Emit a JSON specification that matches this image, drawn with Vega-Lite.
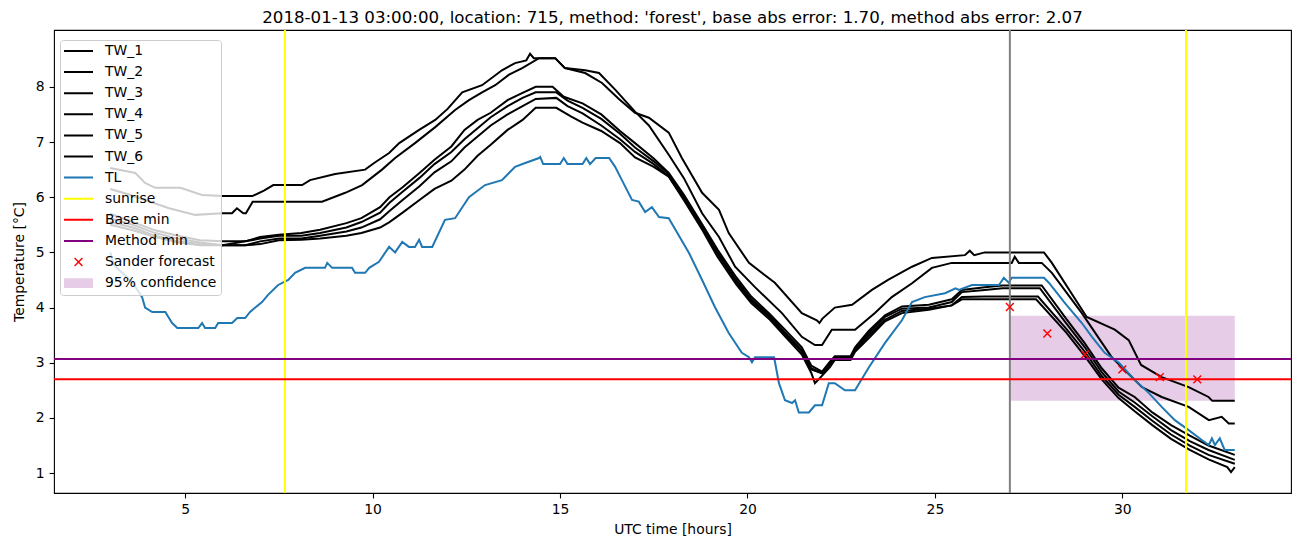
{
"$schema": "https://vega.github.io/schema/vega-lite/v6.json",
"width": 1237,
"height": 463,
"autosize": {"type": "none"},
"padding": {"left": 54, "top": 30, "right": 11, "bottom": 54},
"background": "white",
"title": {"text": "2018-01-13 03:00:00, location: 715, method: 'forest', base abs error: 1.70, method abs error: 2.07", "font": "DejaVu Sans", "fontSize": 16.67, "fontWeight": "normal", "color": "black", "anchor": "middle", "offset": 2},
"config": {
"font": "DejaVu Sans",
"view": {"stroke": "black", "strokeWidth": 1.1},
"axis": {"domain": false, "grid": false, "tickColor": "black", "tickSize": 4.9, "tickWidth": 1.1, "labelFont": "DejaVu Sans", "labelFontSize": 13.9, "labelColor": "black", "labelPadding": 4.9, "titleFont": "DejaVu Sans", "titleFontSize": 13.9, "titleFontWeight": "normal", "titleColor": "black"},
"axisX": {"titlePadding": 5.6},
"axisY": {"titlePadding": 9},
"legend": {"title": null, "orient": "none", "legendX": 6, "legendY": 10, "padding": 4, "fillColor": "rgba(255,255,255,0.8)", "strokeColor": "#cccccc", "cornerRadius": 3, "symbolSize": 841, "symbolStrokeWidth": 0, "symbolOpacity": 1, "labelFont": "DejaVu Sans", "labelFontSize": 13.9, "labelColor": "black", "labelOffset": 12, "labelLimit": 300, "clipHeight": 14, "rowPadding": 7.1}
},
"datasets": {
"band": [{"start": 27, "end": 33, "low": 2.31, "high": 3.85}],
"forecast": [{"series": "Sander forecast", "hour": 27, "temp": 4.01}, {"series": "Sander forecast", "hour": 28, "temp": 3.53}, {"series": "Sander forecast", "hour": 29, "temp": 3.15}, {"series": "Sander forecast", "hour": 30, "temp": 2.88}, {"series": "Sander forecast", "hour": 31, "temp": 2.74}, {"series": "Sander forecast", "hour": 32, "temp": 2.70}],
"sunrise": [{"hour": 7.66}, {"hour": 31.7}],
"now": [{"hour": 27}],
"basemin": [{"temp": 2.70}],
"methodmin": [{"temp": 3.07}],
"lines": [
{"series":"TW_1","hour":3.0,"temp":6.53},{"series":"TW_1","hour":3.67,"temp":6.44},{"series":"TW_1","hour":3.93,"temp":6.26},{"series":"TW_1","hour":4.2,"temp":6.17},{"series":"TW_1","hour":4.87,"temp":6.17},{"series":"TW_1","hour":5.45,"temp":6.04},{"series":"TW_1","hour":6.0,"temp":6.02},{"series":"TW_1","hour":6.79,"temp":6.02},{"series":"TW_1","hour":7.1,"temp":6.12},{"series":"TW_1","hour":7.35,"temp":6.22},{"series":"TW_1","hour":8.12,"temp":6.22},{"series":"TW_1","hour":8.33,"temp":6.31},{"series":"TW_1","hour":9.0,"temp":6.42},{"series":"TW_1","hour":9.8,"temp":6.5},{"series":"TW_1","hour":10.04,"temp":6.62},{"series":"TW_1","hour":10.44,"temp":6.8},{"series":"TW_1","hour":10.71,"temp":6.98},{"series":"TW_1","hour":11.24,"temp":7.22},{"series":"TW_1","hour":11.67,"temp":7.4},{"series":"TW_1","hour":12.0,"temp":7.6},{"series":"TW_1","hour":12.39,"temp":7.9},{"series":"TW_1","hour":12.92,"temp":8.03},{"series":"TW_1","hour":13.45,"temp":8.3},{"series":"TW_1","hour":13.8,"temp":8.43},{"series":"TW_1","hour":14.1,"temp":8.48},{"series":"TW_1","hour":14.2,"temp":8.6},{"series":"TW_1","hour":14.3,"temp":8.52},{"series":"TW_1","hour":14.87,"temp":8.52},{"series":"TW_1","hour":15.13,"temp":8.34},{"series":"TW_1","hour":15.67,"temp":8.25},{"series":"TW_1","hour":16.12,"temp":8.07},{"series":"TW_1","hour":16.57,"temp":7.78},{"series":"TW_1","hour":17.0,"temp":7.53},{"series":"TW_1","hour":17.37,"temp":7.44},{"series":"TW_1","hour":17.9,"temp":7.17},{"series":"TW_1","hour":18.25,"temp":6.71},{"series":"TW_1","hour":18.79,"temp":6.08},{"series":"TW_1","hour":19.24,"temp":5.77},{"series":"TW_1","hour":19.5,"temp":5.35},{"series":"TW_1","hour":20.04,"temp":4.81},{"series":"TW_1","hour":20.73,"temp":4.45},{"series":"TW_1","hour":21.45,"temp":3.9},{"series":"TW_1","hour":21.85,"temp":3.77},{"series":"TW_1","hour":21.92,"temp":3.72},{"series":"TW_1","hour":22.0,"temp":3.8},{"series":"TW_1","hour":22.33,"temp":4.0},{"series":"TW_1","hour":22.79,"temp":4.05},{"series":"TW_1","hour":23.32,"temp":4.32},{"series":"TW_1","hour":23.75,"temp":4.5},{"series":"TW_1","hour":24.39,"temp":4.74},{"series":"TW_1","hour":24.92,"temp":4.9},{"series":"TW_1","hour":25.8,"temp":4.95},{"series":"TW_1","hour":25.93,"temp":5.03},{"series":"TW_1","hour":26.05,"temp":4.95},{"series":"TW_1","hour":26.33,"temp":5.0},{"series":"TW_1","hour":27.91,"temp":5.0},{"series":"TW_1","hour":28.12,"temp":4.81},{"series":"TW_1","hour":29.05,"temp":3.83},{"series":"TW_1","hour":29.8,"temp":3.6},{"series":"TW_1","hour":30.17,"temp":3.41},{"series":"TW_1","hour":30.5,"temp":2.96},{"series":"TW_1","hour":31.05,"temp":2.74},{"series":"TW_1","hour":31.77,"temp":2.56},{"series":"TW_1","hour":32.3,"temp":2.38},{"series":"TW_1","hour":32.4,"temp":2.31},{"series":"TW_1","hour":33.0,"temp":2.31},
{"series":"TW_2","hour":3.0,"temp":6.15},{"series":"TW_2","hour":3.5,"temp":6.05},{"series":"TW_2","hour":3.93,"temp":5.95},{"series":"TW_2","hour":4.57,"temp":5.8},{"series":"TW_2","hour":5.27,"temp":5.68},{"series":"TW_2","hour":5.99,"temp":5.71},{"series":"TW_2","hour":6.25,"temp":5.71},{"series":"TW_2","hour":6.38,"temp":5.8},{"series":"TW_2","hour":6.55,"temp":5.71},{"series":"TW_2","hour":6.62,"temp":5.71},{"series":"TW_2","hour":6.8,"temp":5.92},{"series":"TW_2","hour":8.65,"temp":5.92},{"series":"TW_2","hour":9.27,"temp":6.08},{"series":"TW_2","hour":9.72,"temp":6.22},{"series":"TW_2","hour":10.25,"temp":6.5},{"series":"TW_2","hour":10.6,"temp":6.71},{"series":"TW_2","hour":11.13,"temp":6.98},{"series":"TW_2","hour":11.67,"temp":7.27},{"series":"TW_2","hour":12.2,"temp":7.58},{"series":"TW_2","hour":12.57,"temp":7.76},{"series":"TW_2","hour":12.92,"temp":7.9},{"series":"TW_2","hour":13.27,"temp":8.03},{"series":"TW_2","hour":13.64,"temp":8.22},{"series":"TW_2","hour":13.99,"temp":8.34},{"series":"TW_2","hour":14.44,"temp":8.52},{"series":"TW_2","hour":14.87,"temp":8.52},{"series":"TW_2","hour":15.13,"temp":8.34},{"series":"TW_2","hour":15.67,"temp":8.3},{"series":"TW_2","hour":16.04,"temp":8.25},{"series":"TW_2","hour":16.47,"temp":7.95},{"series":"TW_2","hour":17.0,"temp":7.55},{"series":"TW_2","hour":17.37,"temp":7.3},{"series":"TW_2","hour":17.9,"temp":6.77},{"series":"TW_2","hour":18.3,"temp":6.35},{"series":"TW_2","hour":18.79,"temp":5.71},{"series":"TW_2","hour":19.24,"temp":5.28},{"series":"TW_2","hour":19.67,"temp":4.74},{"series":"TW_2","hour":20.2,"temp":4.37},{"series":"TW_2","hour":20.92,"temp":3.9},{"series":"TW_2","hour":21.45,"temp":3.47},{"series":"TW_2","hour":21.8,"temp":3.32},{"series":"TW_2","hour":21.99,"temp":3.32},{"series":"TW_2","hour":22.25,"temp":3.6},{"series":"TW_2","hour":22.87,"temp":3.6},{"series":"TW_2","hour":23.4,"temp":3.9},{"series":"TW_2","hour":23.85,"temp":4.19},{"series":"TW_2","hour":24.39,"temp":4.44},{"series":"TW_2","hour":24.92,"temp":4.72},{"series":"TW_2","hour":25.45,"temp":4.81},{"series":"TW_2","hour":27.05,"temp":4.81},{"series":"TW_2","hour":27.13,"temp":4.92},{"series":"TW_2","hour":27.24,"temp":4.81},{"series":"TW_2","hour":27.85,"temp":4.81},{"series":"TW_2","hour":28.12,"temp":4.63},{"series":"TW_2","hour":28.92,"temp":3.9},{"series":"TW_2","hour":29.72,"temp":3.1},{"series":"TW_2","hour":30.52,"temp":2.56},{"series":"TW_2","hour":31.05,"temp":2.38},{"series":"TW_2","hour":31.77,"temp":2.2},{"series":"TW_2","hour":32.31,"temp":1.96},{"series":"TW_2","hour":32.65,"temp":2.02},{"series":"TW_2","hour":32.84,"temp":1.9},{"series":"TW_2","hour":33.0,"temp":1.9},
{"series":"TW_3","hour":3.0,"temp":5.7},{"series":"TW_3","hour":3.6,"temp":5.55},{"series":"TW_3","hour":4.2,"temp":5.4},{"series":"TW_3","hour":4.8,"temp":5.3},{"series":"TW_3","hour":5.4,"temp":5.22},{"series":"TW_3","hour":6.0,"temp":5.2},{"series":"TW_3","hour":6.6,"temp":5.2},{"series":"TW_3","hour":7.0,"temp":5.28},{"series":"TW_3","hour":7.5,"temp":5.32},{"series":"TW_3","hour":8.1,"temp":5.35},{"series":"TW_3","hour":8.6,"temp":5.41},{"series":"TW_3","hour":9.3,"temp":5.53},{"series":"TW_3","hour":9.7,"temp":5.62},{"series":"TW_3","hour":10.2,"temp":5.82},{"series":"TW_3","hour":10.45,"temp":6.0},{"series":"TW_3","hour":10.8,"temp":6.18},{"series":"TW_3","hour":11.25,"temp":6.44},{"series":"TW_3","hour":11.65,"temp":6.68},{"series":"TW_3","hour":12.1,"temp":6.92},{"series":"TW_3","hour":12.45,"temp":7.22},{"series":"TW_3","hour":12.8,"temp":7.4},{"series":"TW_3","hour":13.15,"temp":7.53},{"series":"TW_3","hour":13.6,"temp":7.76},{"series":"TW_3","hour":14.0,"temp":7.89},{"series":"TW_3","hour":14.35,"temp":8.0},{"series":"TW_3","hour":14.8,"temp":8.0},{"series":"TW_3","hour":15.1,"temp":7.82},{"series":"TW_3","hour":15.6,"temp":7.7},{"series":"TW_3","hour":16.1,"temp":7.5},{"series":"TW_3","hour":16.6,"temp":7.2},{"series":"TW_3","hour":17.0,"temp":6.98},{"series":"TW_3","hour":17.5,"temp":6.7},{"series":"TW_3","hour":17.9,"temp":6.44},{"series":"TW_3","hour":18.3,"temp":6.05},{"series":"TW_3","hour":18.8,"temp":5.5},{"series":"TW_3","hour":19.2,"temp":5.05},{"series":"TW_3","hour":19.7,"temp":4.55},{"series":"TW_3","hour":20.1,"temp":4.2},{"series":"TW_3","hour":20.6,"temp":3.88},{"series":"TW_3","hour":21.0,"temp":3.6},{"series":"TW_3","hour":21.45,"temp":3.28},{"series":"TW_3","hour":21.7,"temp":2.95},{"series":"TW_3","hour":21.99,"temp":2.84},{"series":"TW_3","hour":22.2,"temp":3.02},{"series":"TW_3","hour":22.33,"temp":3.12},{"series":"TW_3","hour":22.75,"temp":3.12},{"series":"TW_3","hour":22.87,"temp":3.28},{"series":"TW_3","hour":23.24,"temp":3.58},{"series":"TW_3","hour":23.67,"temp":3.86},{"series":"TW_3","hour":24.12,"temp":4.02},{"series":"TW_3","hour":24.84,"temp":4.05},{"series":"TW_3","hour":25.45,"temp":4.15},{"series":"TW_3","hour":25.72,"temp":4.32},{"series":"TW_3","hour":26.33,"temp":4.37},{"series":"TW_3","hour":26.8,"temp":4.4},{"series":"TW_3","hour":27.85,"temp":4.4},{"series":"TW_3","hour":28.5,"temp":3.8},{"series":"TW_3","hour":29.0,"temp":3.35},{"series":"TW_3","hour":29.45,"temp":2.9},{"series":"TW_3","hour":29.9,"temp":2.55},{"series":"TW_3","hour":30.33,"temp":2.38},{"series":"TW_3","hour":30.8,"temp":2.1},{"series":"TW_3","hour":31.3,"temp":1.87},{"series":"TW_3","hour":31.8,"temp":1.68},{"series":"TW_3","hour":32.3,"temp":1.5},{"series":"TW_3","hour":33.0,"temp":1.33},
{"series":"TW_4","hour":3.0,"temp":5.62},{"series":"TW_4","hour":3.6,"temp":5.5},{"series":"TW_4","hour":4.2,"temp":5.35},{"series":"TW_4","hour":4.8,"temp":5.25},{"series":"TW_4","hour":5.4,"temp":5.18},{"series":"TW_4","hour":6.0,"temp":5.13},{"series":"TW_4","hour":6.6,"temp":5.2},{"series":"TW_4","hour":7.0,"temp":5.25},{"series":"TW_4","hour":7.5,"temp":5.3},{"series":"TW_4","hour":8.1,"temp":5.3},{"series":"TW_4","hour":8.6,"temp":5.35},{"series":"TW_4","hour":9.3,"temp":5.45},{"series":"TW_4","hour":9.7,"temp":5.55},{"series":"TW_4","hour":10.2,"temp":5.72},{"series":"TW_4","hour":10.45,"temp":5.9},{"series":"TW_4","hour":10.8,"temp":6.1},{"series":"TW_4","hour":11.25,"temp":6.35},{"series":"TW_4","hour":11.65,"temp":6.6},{"series":"TW_4","hour":12.1,"temp":6.82},{"series":"TW_4","hour":12.45,"temp":7.05},{"series":"TW_4","hour":12.8,"temp":7.25},{"series":"TW_4","hour":13.15,"temp":7.45},{"series":"TW_4","hour":13.6,"temp":7.65},{"series":"TW_4","hour":14.0,"temp":7.8},{"series":"TW_4","hour":14.35,"temp":7.9},{"series":"TW_4","hour":14.9,"temp":7.9},{"series":"TW_4","hour":15.2,"temp":7.75},{"series":"TW_4","hour":15.6,"temp":7.62},{"series":"TW_4","hour":16.1,"temp":7.42},{"series":"TW_4","hour":16.6,"temp":7.15},{"series":"TW_4","hour":17.0,"temp":6.9},{"series":"TW_4","hour":17.5,"temp":6.65},{"series":"TW_4","hour":17.9,"temp":6.42},{"series":"TW_4","hour":18.3,"temp":6.02},{"series":"TW_4","hour":18.8,"temp":5.47},{"series":"TW_4","hour":19.2,"temp":5.0},{"series":"TW_4","hour":19.7,"temp":4.5},{"series":"TW_4","hour":20.1,"temp":4.15},{"series":"TW_4","hour":20.6,"temp":3.85},{"series":"TW_4","hour":21.0,"temp":3.55},{"series":"TW_4","hour":21.45,"temp":3.23},{"series":"TW_4","hour":21.7,"temp":2.9},{"series":"TW_4","hour":21.99,"temp":2.81},{"series":"TW_4","hour":22.2,"temp":2.98},{"series":"TW_4","hour":22.33,"temp":3.09},{"series":"TW_4","hour":22.75,"temp":3.09},{"series":"TW_4","hour":22.87,"temp":3.25},{"series":"TW_4","hour":23.24,"temp":3.54},{"series":"TW_4","hour":23.67,"temp":3.83},{"series":"TW_4","hour":24.12,"temp":3.98},{"series":"TW_4","hour":24.84,"temp":4.0},{"series":"TW_4","hour":25.45,"temp":4.1},{"series":"TW_4","hour":25.72,"temp":4.28},{"series":"TW_4","hour":26.33,"temp":4.32},{"series":"TW_4","hour":26.8,"temp":4.35},{"series":"TW_4","hour":27.8,"temp":4.35},{"series":"TW_4","hour":28.5,"temp":3.72},{"series":"TW_4","hour":29.0,"temp":3.28},{"series":"TW_4","hour":29.45,"temp":2.83},{"series":"TW_4","hour":29.9,"temp":2.48},{"series":"TW_4","hour":30.33,"temp":2.28},{"series":"TW_4","hour":30.8,"temp":2.03},{"series":"TW_4","hour":31.3,"temp":1.78},{"series":"TW_4","hour":31.8,"temp":1.58},{"series":"TW_4","hour":32.3,"temp":1.42},{"series":"TW_4","hour":33.0,"temp":1.24},
{"series":"TW_5","hour":3.0,"temp":5.55},{"series":"TW_5","hour":3.6,"temp":5.45},{"series":"TW_5","hour":4.2,"temp":5.3},{"series":"TW_5","hour":4.8,"temp":5.2},{"series":"TW_5","hour":5.4,"temp":5.15},{"series":"TW_5","hour":6.0,"temp":5.13},{"series":"TW_5","hour":6.6,"temp":5.13},{"series":"TW_5","hour":7.0,"temp":5.2},{"series":"TW_5","hour":7.5,"temp":5.25},{"series":"TW_5","hour":8.1,"temp":5.25},{"series":"TW_5","hour":8.6,"temp":5.3},{"series":"TW_5","hour":9.3,"temp":5.38},{"series":"TW_5","hour":9.7,"temp":5.45},{"series":"TW_5","hour":10.2,"temp":5.6},{"series":"TW_5","hour":10.45,"temp":5.75},{"series":"TW_5","hour":10.8,"temp":5.95},{"series":"TW_5","hour":11.25,"temp":6.2},{"series":"TW_5","hour":11.65,"temp":6.45},{"series":"TW_5","hour":12.1,"temp":6.65},{"series":"TW_5","hour":12.45,"temp":6.9},{"series":"TW_5","hour":12.8,"temp":7.1},{"series":"TW_5","hour":13.15,"temp":7.3},{"series":"TW_5","hour":13.6,"temp":7.5},{"series":"TW_5","hour":14.0,"temp":7.65},{"series":"TW_5","hour":14.35,"temp":7.78},{"series":"TW_5","hour":14.9,"temp":7.8},{"series":"TW_5","hour":15.2,"temp":7.65},{"series":"TW_5","hour":15.6,"temp":7.52},{"series":"TW_5","hour":16.1,"temp":7.3},{"series":"TW_5","hour":16.6,"temp":7.05},{"series":"TW_5","hour":17.0,"temp":6.82},{"series":"TW_5","hour":17.5,"temp":6.6},{"series":"TW_5","hour":17.9,"temp":6.38},{"series":"TW_5","hour":18.3,"temp":5.98},{"series":"TW_5","hour":18.8,"temp":5.44},{"series":"TW_5","hour":19.2,"temp":4.97},{"series":"TW_5","hour":19.7,"temp":4.47},{"series":"TW_5","hour":20.1,"temp":4.12},{"series":"TW_5","hour":20.6,"temp":3.82},{"series":"TW_5","hour":21.0,"temp":3.52},{"series":"TW_5","hour":21.45,"temp":3.2},{"series":"TW_5","hour":21.7,"temp":2.88},{"series":"TW_5","hour":21.99,"temp":2.81},{"series":"TW_5","hour":22.2,"temp":2.96},{"series":"TW_5","hour":22.33,"temp":3.07},{"series":"TW_5","hour":22.75,"temp":3.07},{"series":"TW_5","hour":22.87,"temp":3.22},{"series":"TW_5","hour":23.24,"temp":3.5},{"series":"TW_5","hour":23.67,"temp":3.78},{"series":"TW_5","hour":24.12,"temp":3.94},{"series":"TW_5","hour":24.84,"temp":3.98},{"series":"TW_5","hour":25.45,"temp":4.04},{"series":"TW_5","hour":25.72,"temp":4.19},{"series":"TW_5","hour":26.33,"temp":4.2},{"series":"TW_5","hour":27.75,"temp":4.2},{"series":"TW_5","hour":28.5,"temp":3.62},{"series":"TW_5","hour":29.0,"temp":3.2},{"series":"TW_5","hour":29.45,"temp":2.76},{"series":"TW_5","hour":29.9,"temp":2.42},{"series":"TW_5","hour":30.33,"temp":2.2},{"series":"TW_5","hour":30.8,"temp":1.95},{"series":"TW_5","hour":31.3,"temp":1.7},{"series":"TW_5","hour":31.8,"temp":1.5},{"series":"TW_5","hour":32.3,"temp":1.33},{"series":"TW_5","hour":33.0,"temp":1.17},
{"series":"TW_6","hour":3.0,"temp":5.5},{"series":"TW_6","hour":3.6,"temp":5.4},{"series":"TW_6","hour":4.2,"temp":5.28},{"series":"TW_6","hour":4.8,"temp":5.18},{"series":"TW_6","hour":5.4,"temp":5.13},{"series":"TW_6","hour":6.0,"temp":5.13},{"series":"TW_6","hour":6.6,"temp":5.13},{"series":"TW_6","hour":7.0,"temp":5.15},{"series":"TW_6","hour":7.5,"temp":5.22},{"series":"TW_6","hour":8.1,"temp":5.23},{"series":"TW_6","hour":8.6,"temp":5.25},{"series":"TW_6","hour":9.3,"temp":5.3},{"series":"TW_6","hour":9.7,"temp":5.35},{"series":"TW_6","hour":10.2,"temp":5.45},{"series":"TW_6","hour":10.45,"temp":5.55},{"series":"TW_6","hour":10.8,"temp":5.72},{"series":"TW_6","hour":11.25,"temp":5.95},{"series":"TW_6","hour":11.65,"temp":6.15},{"series":"TW_6","hour":12.1,"temp":6.3},{"series":"TW_6","hour":12.45,"temp":6.5},{"series":"TW_6","hour":12.8,"temp":6.75},{"series":"TW_6","hour":13.15,"temp":6.95},{"series":"TW_6","hour":13.6,"temp":7.22},{"series":"TW_6","hour":14.0,"temp":7.4},{"series":"TW_6","hour":14.35,"temp":7.62},{"series":"TW_6","hour":14.9,"temp":7.62},{"series":"TW_6","hour":15.3,"temp":7.46},{"series":"TW_6","hour":15.6,"temp":7.35},{"series":"TW_6","hour":16.1,"temp":7.2},{"series":"TW_6","hour":16.6,"temp":6.98},{"series":"TW_6","hour":17.0,"temp":6.72},{"series":"TW_6","hour":17.5,"temp":6.55},{"series":"TW_6","hour":17.9,"temp":6.37},{"series":"TW_6","hour":18.3,"temp":5.95},{"series":"TW_6","hour":18.8,"temp":5.4},{"series":"TW_6","hour":19.2,"temp":4.92},{"series":"TW_6","hour":19.7,"temp":4.42},{"series":"TW_6","hour":20.1,"temp":4.08},{"series":"TW_6","hour":20.6,"temp":3.78},{"series":"TW_6","hour":21.0,"temp":3.48},{"series":"TW_6","hour":21.45,"temp":3.15},{"series":"TW_6","hour":21.7,"temp":2.82},{"series":"TW_6","hour":21.8,"temp":2.63},{"series":"TW_6","hour":21.9,"temp":2.7},{"series":"TW_6","hour":22.2,"temp":2.92},{"series":"TW_6","hour":22.33,"temp":3.05},{"series":"TW_6","hour":22.75,"temp":3.05},{"series":"TW_6","hour":22.87,"temp":3.2},{"series":"TW_6","hour":23.24,"temp":3.45},{"series":"TW_6","hour":23.67,"temp":3.75},{"series":"TW_6","hour":24.12,"temp":3.9},{"series":"TW_6","hour":24.84,"temp":3.96},{"series":"TW_6","hour":25.45,"temp":4.04},{"series":"TW_6","hour":25.72,"temp":4.15},{"series":"TW_6","hour":26.33,"temp":4.15},{"series":"TW_6","hour":27.7,"temp":4.15},{"series":"TW_6","hour":28.5,"temp":3.55},{"series":"TW_6","hour":29.0,"temp":3.12},{"series":"TW_6","hour":29.45,"temp":2.7},{"series":"TW_6","hour":29.9,"temp":2.36},{"series":"TW_6","hour":30.33,"temp":2.12},{"series":"TW_6","hour":30.8,"temp":1.87},{"series":"TW_6","hour":31.3,"temp":1.62},{"series":"TW_6","hour":31.8,"temp":1.42},{"series":"TW_6","hour":32.3,"temp":1.25},{"series":"TW_6","hour":32.8,"temp":1.11},{"series":"TW_6","hour":32.9,"temp":1.02},{"series":"TW_6","hour":33.0,"temp":1.11},
{"series":"TL","hour":3.0,"temp":5.0},{"series":"TL","hour":3.1,"temp":4.77},{"series":"TL","hour":3.6,"temp":4.45},{"series":"TL","hour":3.85,"temp":4.19},{"series":"TL","hour":3.93,"temp":4.0},{"series":"TL","hour":4.12,"temp":3.92},{"series":"TL","hour":4.47,"temp":3.92},{"series":"TL","hour":4.65,"temp":3.72},{"series":"TL","hour":4.79,"temp":3.63},{"series":"TL","hour":5.35,"temp":3.63},{"series":"TL","hour":5.45,"temp":3.72},{"series":"TL","hour":5.53,"temp":3.63},{"series":"TL","hour":5.8,"temp":3.63},{"series":"TL","hour":5.88,"temp":3.72},{"series":"TL","hour":6.25,"temp":3.72},{"series":"TL","hour":6.39,"temp":3.81},{"series":"TL","hour":6.6,"temp":3.81},{"series":"TL","hour":6.73,"temp":3.92},{"series":"TL","hour":6.87,"temp":4.0},{"series":"TL","hour":7.05,"temp":4.1},{"series":"TL","hour":7.21,"temp":4.23},{"series":"TL","hour":7.48,"temp":4.41},{"series":"TL","hour":7.75,"temp":4.5},{"series":"TL","hour":7.93,"temp":4.63},{"series":"TL","hour":8.2,"temp":4.72},{"series":"TL","hour":8.73,"temp":4.72},{"series":"TL","hour":8.79,"temp":4.81},{"series":"TL","hour":8.92,"temp":4.72},{"series":"TL","hour":9.45,"temp":4.72},{"series":"TL","hour":9.53,"temp":4.63},{"series":"TL","hour":9.8,"temp":4.63},{"series":"TL","hour":9.91,"temp":4.72},{"series":"TL","hour":10.17,"temp":4.83},{"series":"TL","hour":10.44,"temp":5.1},{"series":"TL","hour":10.6,"temp":5.0},{"series":"TL","hour":10.79,"temp":5.19},{"series":"TL","hour":10.97,"temp":5.1},{"series":"TL","hour":11.13,"temp":5.1},{"series":"TL","hour":11.24,"temp":5.23},{"series":"TL","hour":11.32,"temp":5.1},{"series":"TL","hour":11.59,"temp":5.1},{"series":"TL","hour":11.93,"temp":5.59},{"series":"TL","hour":12.2,"temp":5.62},{"series":"TL","hour":12.57,"temp":6.0},{"series":"TL","hour":13.0,"temp":6.22},{"series":"TL","hour":13.45,"temp":6.31},{"series":"TL","hour":13.8,"temp":6.55},{"series":"TL","hour":14.07,"temp":6.62},{"series":"TL","hour":14.44,"temp":6.71},{"series":"TL","hour":14.47,"temp":6.73},{"series":"TL","hour":14.55,"temp":6.6},{"series":"TL","hour":15.0,"temp":6.6},{"series":"TL","hour":15.1,"temp":6.71},{"series":"TL","hour":15.2,"temp":6.6},{"series":"TL","hour":15.6,"temp":6.6},{"series":"TL","hour":15.7,"temp":6.71},{"series":"TL","hour":15.8,"temp":6.6},{"series":"TL","hour":15.95,"temp":6.71},{"series":"TL","hour":16.31,"temp":6.71},{"series":"TL","hour":16.47,"temp":6.55},{"series":"TL","hour":16.65,"temp":6.31},{"series":"TL","hour":16.92,"temp":5.95},{"series":"TL","hour":17.1,"temp":5.92},{"series":"TL","hour":17.27,"temp":5.73},{"series":"TL","hour":17.45,"temp":5.82},{"series":"TL","hour":17.64,"temp":5.64},{"series":"TL","hour":17.9,"temp":5.62},{"series":"TL","hour":18.44,"temp":4.99},{"series":"TL","hour":18.79,"temp":4.5},{"series":"TL","hour":19.13,"temp":4.01},{"series":"TL","hour":19.5,"temp":3.54},{"series":"TL","hour":19.85,"temp":3.18},{"series":"TL","hour":20.04,"temp":3.1},{"series":"TL","hour":20.12,"temp":3.01},{"series":"TL","hour":20.2,"temp":3.1},{"series":"TL","hour":20.71,"temp":3.1},{"series":"TL","hour":20.84,"temp":2.63},{"series":"TL","hour":21.0,"temp":2.32},{"series":"TL","hour":21.19,"temp":2.27},{"series":"TL","hour":21.27,"temp":2.32},{"series":"TL","hour":21.37,"temp":2.1},{"series":"TL","hour":21.64,"temp":2.1},{"series":"TL","hour":21.8,"temp":2.23},{"series":"TL","hour":21.99,"temp":2.23},{"series":"TL","hour":22.17,"temp":2.63},{"series":"TL","hour":22.33,"temp":2.63},{"series":"TL","hour":22.6,"temp":2.5},{"series":"TL","hour":22.87,"temp":2.5},{"series":"TL","hour":23.24,"temp":2.92},{"series":"TL","hour":23.67,"temp":3.36},{"series":"TL","hour":24.12,"temp":3.77},{"series":"TL","hour":24.39,"temp":4.1},{"series":"TL","hour":24.73,"temp":4.19},{"series":"TL","hour":25.27,"temp":4.26},{"series":"TL","hour":25.55,"temp":4.35},{"series":"TL","hour":25.64,"temp":4.32},{"series":"TL","hour":25.99,"temp":4.41},{"series":"TL","hour":26.71,"temp":4.41},{"series":"TL","hour":26.84,"temp":4.54},{"series":"TL","hour":26.97,"temp":4.45},{"series":"TL","hour":27.05,"temp":4.54},{"series":"TL","hour":27.91,"temp":4.54},{"series":"TL","hour":28.04,"temp":4.45},{"series":"TL","hour":28.47,"temp":4.08},{"series":"TL","hour":28.92,"temp":3.72},{"series":"TL","hour":29.19,"temp":3.47},{"series":"TL","hour":29.53,"temp":3.18},{"series":"TL","hour":29.91,"temp":3.0},{"series":"TL","hour":30.33,"temp":2.69},{"series":"TL","hour":30.71,"temp":2.45},{"series":"TL","hour":31.05,"temp":2.2},{"series":"TL","hour":31.4,"temp":1.96},{"series":"TL","hour":31.77,"temp":1.78},{"series":"TL","hour":32.12,"temp":1.6},{"series":"TL","hour":32.31,"temp":1.51},{"series":"TL","hour":32.39,"temp":1.63},{"series":"TL","hour":32.47,"temp":1.51},{"series":"TL","hour":32.6,"temp":1.63},{"series":"TL","hour":32.73,"temp":1.42},{"series":"TL","hour":33.0,"temp":1.42}
]
},
"layer": [
{"data": {"name": "band"}, "mark": {"type": "rect", "color": "purple", "opacity": 0.2},
 "encoding": {"x": {"field": "start", "type": "quantitative", "title": "UTC time [hours]", "scale": {"domain": [1.5, 34.5], "nice": false, "zero": false}}, "x2": {"field": "end"},
  "y": {"field": "low", "type": "quantitative", "title": "Temperature [°C]", "scale": {"domain": [0.64, 9.03], "nice": false, "zero": false}}, "y2": {"field": "high"}}},
{"data": {"name": "lines"}, "mark": {"type": "line", "strokeWidth": 2, "clip": true},
 "encoding": {
  "x": {"field": "hour", "type": "quantitative", "title": "UTC time [hours]", "scale": {"domain": [1.5, 34.5], "nice": false, "zero": false}, "axis": {"values": [5, 10, 15, 20, 25, 30], "format": "d"}},
  "y": {"field": "temp", "type": "quantitative", "title": "Temperature [°C]", "scale": {"domain": [0.64, 9.03], "nice": false, "zero": false}, "axis": {"values": [1, 2, 3, 4, 5, 6, 7, 8], "format": "d"}},
  "order": {"field": "hour", "type": "quantitative"},
  "stroke": {"field": "series", "type": "nominal",
   "scale": {"domain": ["TW_1", "TW_2", "TW_3", "TW_4", "TW_5", "TW_6", "TL"], "range": ["black", "black", "black", "black", "black", "black", "#1f77b4"]},
   "legend": null}
  }},
{"data": {"name": "sunrise"}, "mark": {"type": "rule", "color": "yellow", "strokeWidth": 2},
 "encoding": {"x": {"field": "hour", "type": "quantitative", "title": "UTC time [hours]", "scale": {"domain": [1.5, 34.5], "nice": false, "zero": false}}}},
{"data": {"name": "now"}, "mark": {"type": "rule", "color": "gray", "strokeWidth": 2},
 "encoding": {"x": {"field": "hour", "type": "quantitative", "title": "UTC time [hours]", "scale": {"domain": [1.5, 34.5], "nice": false, "zero": false}}}},
{"data": {"name": "basemin"}, "mark": {"type": "rule", "color": "red", "strokeWidth": 2},
 "encoding": {"y": {"field": "temp", "type": "quantitative", "title": "Temperature [°C]", "scale": {"domain": [0.64, 9.03], "nice": false, "zero": false}}}},
{"data": {"name": "methodmin"}, "mark": {"type": "rule", "color": "purple", "strokeWidth": 2},
 "encoding": {"y": {"field": "temp", "type": "quantitative", "title": "Temperature [°C]", "scale": {"domain": [0.64, 9.03], "nice": false, "zero": false}}}},
{"data": {"name": "forecast"}, "mark": {"type": "point", "filled": true, "size": 841, "opacity": 1, "strokeWidth": 0},
 "encoding": {"x": {"field": "hour", "type": "quantitative", "title": "UTC time [hours]", "scale": {"domain": [1.5, 34.5], "nice": false, "zero": false}},
  "y": {"field": "temp", "type": "quantitative", "title": "Temperature [°C]", "scale": {"domain": [0.64, 9.03], "nice": false, "zero": false}},
  "color": {"field": "series", "type": "nominal",
   "scale": {"domain": ["TW_1", "TW_2", "TW_3", "TW_4", "TW_5", "TW_6", "TL", "sunrise", "Base min", "Method min", "Sander forecast", "95% confidence"],
             "range": ["black", "black", "black", "black", "black", "black", "#1f77b4", "yellow", "red", "purple", "red", "#e6cce6"]}},
  "shape": {"field": "series", "type": "nominal",
   "scale": {"domain": ["TW_1", "TW_2", "TW_3", "TW_4", "TW_5", "TW_6", "TL", "sunrise", "Base min", "Method min", "Sander forecast", "95% confidence"],
             "range": ["M-1,-0.069H1V0.069H-1Z", "M-1,-0.069H1V0.069H-1Z", "M-1,-0.069H1V0.069H-1Z", "M-1,-0.069H1V0.069H-1Z", "M-1,-0.069H1V0.069H-1Z", "M-1,-0.069H1V0.069H-1Z", "M-1,-0.069H1V0.069H-1Z", "M-1,-0.069H1V0.069H-1Z", "M-1,-0.069H1V0.069H-1Z", "M-1,-0.069H1V0.069H-1Z", "M-0.235,-0.305L0.305,0.235L0.235,0.305L-0.305,-0.235ZM-0.305,0.235L0.235,-0.305L0.305,-0.235L-0.235,0.305Z", "M-1,-0.33H1V0.33H-1Z"]}}
 }}
]
}
